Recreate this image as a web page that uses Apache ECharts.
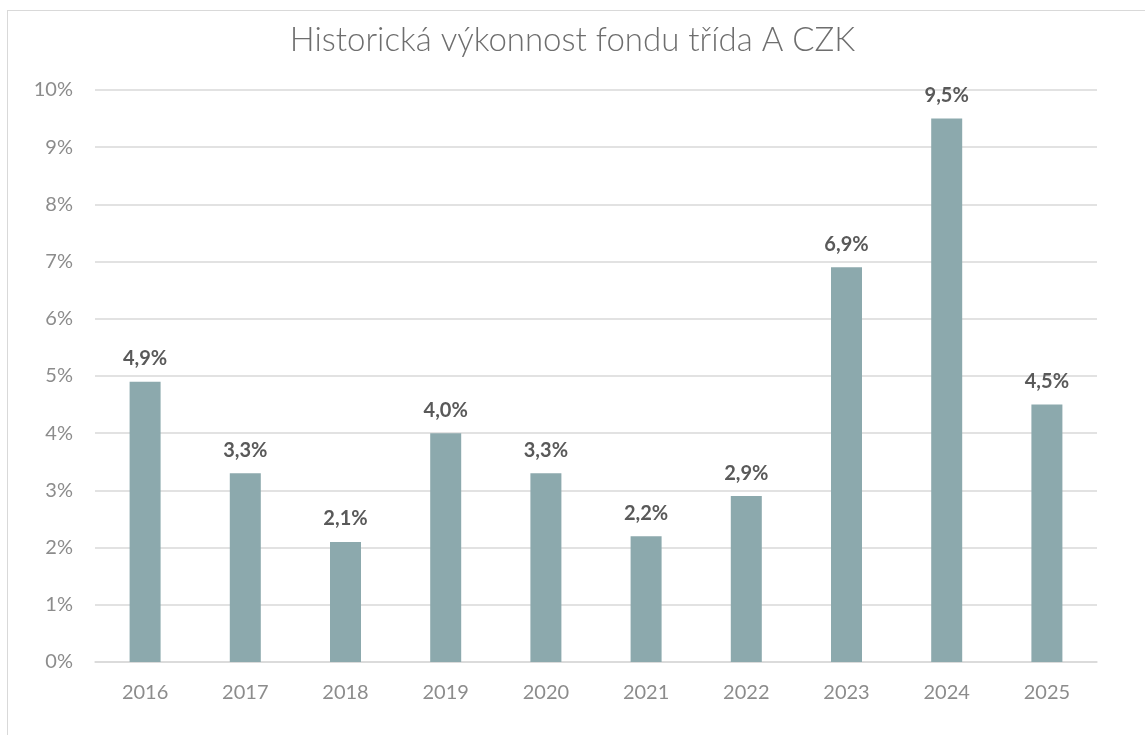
<!DOCTYPE html>
<html>
<head>
<meta charset="utf-8">
<script src="https://cdn.jsdelivr.net/npm/echarts@6/dist/echarts.min.js"></script>
<style>
    html, body { margin: 0; padding: 0; background: #fff; }
    #frame { position: absolute; left: 7px; top: 10px; width: 1200px; height: 800px; border: 1px solid #d9d9d9; box-sizing: border-box; }
    #chart { position: absolute; left: 0; top: 0; width: 1145px; height: 735px; }
</style>
</head>
<body>
<div id="frame"></div>
<div id="chart"></div>
<script>
    // data
    var years = ['2016', '2017', '2018', '2019', '2020', '2021', '2022', '2023', '2024', '2025'];
    var returns = [4.9, 3.3, 2.1, 4.0, 3.3, 2.2, 2.9, 6.9, 9.5, 4.5];
    var yTicks = [0, 1, 2, 3, 4, 5, 6, 7, 8, 9, 10];

    var font = 'Lato, "Open Sans", sans-serif';
    var chart = echarts.init(document.getElementById('chart'), null, { renderer: 'canvas' });

    var option = {
        animation: false,
        title: {
            text: 'Historická výkonnost fondu třída A CZK',
            left: 'center',
            top: 19,
            textStyle: { fontFamily: font, fontWeight: 300, fontSize: 33, color: '#6e6e6e' }
        },
        grid: { left: 95, right: 48, top: 90, bottom: 73 },
        xAxis: {
            type: 'category',
            data: years,
            axisLine: { show: true, lineStyle: { color: '#d9d9d9', width: 1.5 } },
            axisTick: { show: false },
            axisLabel: { fontFamily: font, fontSize: 20, color: '#8c8c8c', margin: 21 }
        },
        yAxis: {
            type: 'value',
            min: yTicks[0],
            max: yTicks[yTicks.length - 1],
            interval: 1,
            axisLine: { show: false },
            axisTick: { show: false },
            axisLabel: {
                fontFamily: font, fontSize: 20, color: '#8c8c8c', margin: 22,
                formatter: function (v) { return v + '%'; }
            },
            splitLine: { lineStyle: { color: '#d9d9d9', width: 1.5 } }
        },
        series: [{
            type: 'bar',
            data: returns,
            barWidth: 31,
            itemStyle: { color: '#8ca9ad' },
            label: {
                show: true,
                position: 'top',
                distance: 13,
                fontFamily: font,
                fontSize: 20,
                fontWeight: 'bold',
                color: '#595959',
                formatter: function (p) { return p.value.toFixed(1).replace('.', ',') + '%'; }
            }
        }]
    };

    chart.setOption(option);
</script>
</body>
</html>
